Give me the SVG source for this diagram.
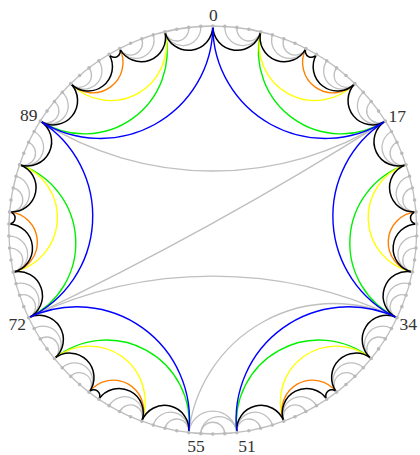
<svg xmlns="http://www.w3.org/2000/svg" xmlns:xlink="http://www.w3.org/1999/xlink" width="420" height="455" viewBox="0 0 420 455">
<style>
path{fill:none}
.g{stroke:#bfbfbf;stroke-width:1.3}
.k{stroke:#000;stroke-width:1.5}
.b{stroke:#0000ff;stroke-width:1.4}
.gr{stroke:#00f000;stroke-width:1.4}
.y{stroke:#ffff00;stroke-width:1.4}
.o{stroke:#ff8000;stroke-width:1.4}
text{font-family:"Liberation Serif","DejaVu Serif",serif;font-size:17.5px;fill:#333}
</style>
<defs>
<path id="d1" d="M-6.045,-203.910 A6.048,6.048 0 0 0 6.045,-203.910"/>
<path id="d2" d="M-12.085,-203.642 A12.106,12.106 0 0 0 12.085,-203.642"/>
<path id="d3" d="M-18.114,-203.194 A18.186,18.186 0 0 0 18.114,-203.194"/>
<path id="d4" d="M-24.128,-202.568 A24.298,24.298 0 0 0 24.128,-202.568"/>
<path id="d5" d="M-30.120,-201.764 A30.454,30.454 0 0 0 30.120,-201.764"/>
<path id="d9" d="M-53.772,-196.786 A55.744,55.744 0 0 0 53.772,-196.786"/>
<path id="d13" d="M-76.669,-189.045 A82.734,82.734 0 0 0 76.669,-189.045"/>
<path id="d17" d="M-98.489,-178.650 A112.464,112.464 0 0 0 98.489,-178.650"/>
<path id="d21" d="M-118.927,-165.748 A146.374,146.374 0 0 0 118.927,-165.748"/>
<path id="d34" d="M-172.502,-108.900 A323.143,323.143 0 0 0 172.502,-108.900"/>
<path id="d38" d="M-184.171,-87.733 A428.239,428.239 0 0 0 184.171,-87.733"/>
<path id="d51" d="M-203.642,-12.085 A3437.6,3437.6 0 0 0 203.642,-12.085"/>
<g id="q">
<use href="#d3" class="g" transform="rotate(1.698113)"/>
<use href="#d2" class="g" transform="rotate(3.396226)"/>
<use href="#d4" class="k"/>
</g>
<g id="iv">
<use href="#d13" class="gr" transform="rotate(35.6604)"/>
<use href="#d9" class="y" transform="rotate(28.8679)"/>
<use href="#d5" class="o" transform="rotate(35.6604)"/>
<use href="#q" transform="rotate(6.7925)"/>
<use href="#q" transform="rotate(20.3774)"/>
<use href="#d1" class="k" transform="rotate(28.8679)"/>
<use href="#q" transform="rotate(37.3585)"/>
<use href="#q" transform="rotate(50.9434)"/>
<use href="#d17" class="b" transform="rotate(28.8679)"/>
</g>
</defs>
<g id="disk" transform="translate(212.8,230)">
<circle r="204" fill="none" stroke="#bfbfbf" stroke-width="1.3"/>
<g id="diagonals">
<use href="#d34" class="g"/>
<use href="#d51" class="g" transform="rotate(331.132)"/>
<use href="#d38" class="g" transform="rotate(180)"/>
<use href="#d21" class="g" transform="rotate(151.132)"/>
<use href="#d4" class="g" transform="rotate(180)"/>
<use href="#d3" class="g" transform="rotate(178.3019)"/>
<use href="#d2" class="g" transform="rotate(180)"/>
</g>
<g id="right">
<use href="#iv"/>
<use href="#iv" transform="rotate(57.7358)"/>
<use href="#iv" transform="rotate(115.4717)"/>
</g>
<g id="left" transform="scale(-1,1)">
<use href="#iv"/>
<use href="#iv" transform="rotate(57.7358)"/>
<use href="#iv" transform="rotate(115.4717)"/>
</g>
<circle id="dots" r="204" fill="none" stroke="#bababa" stroke-width="3.6" stroke-linecap="round" pathLength="106" stroke-dasharray="0 1" stroke-dashoffset="0.5"/>
</g>
<g id="labels">
<text x="213.3" y="20.5" text-anchor="middle">0</text>
<text x="388.5" y="121.5">17</text>
<text x="399.5" y="330">34</text>
<text x="238.3" y="452">51</text>
<text x="187.3" y="452">55</text>
<text x="26" y="330" text-anchor="end">72</text>
<text x="37.5" y="121" text-anchor="end">89</text>
</g>
</svg>
